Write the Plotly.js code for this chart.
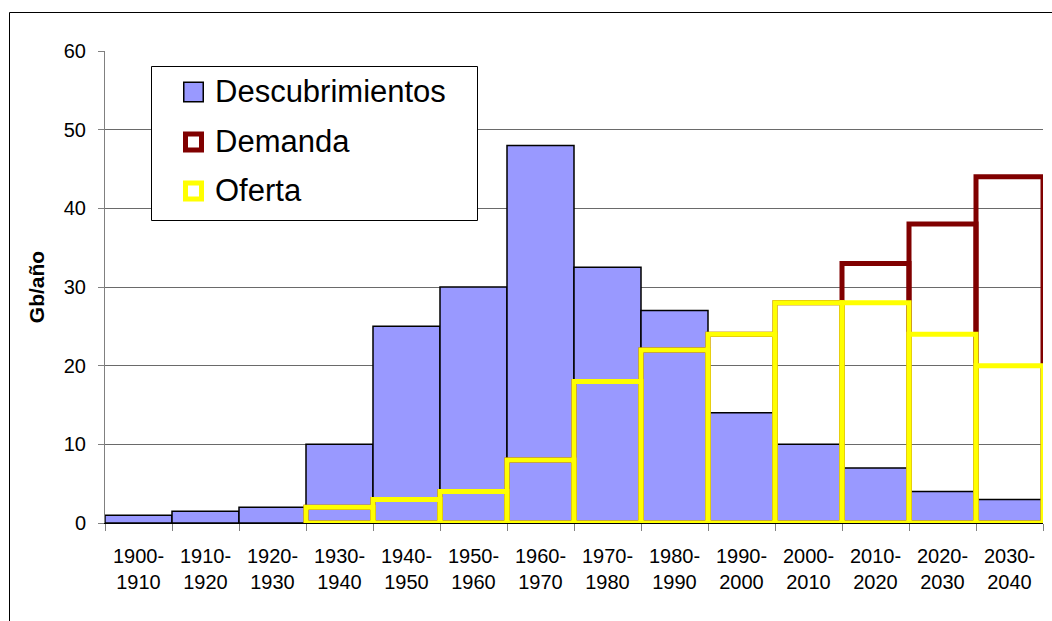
<!DOCTYPE html>
<html>
<head>
<meta charset="utf-8">
<script src="https://cdn.plot.ly/plotly-3.0.1.min.js"></script>
<style>
  html, body { margin: 0; padding: 0; background: #fff; }
  #chart { width: 1052px; height: 621px; }
</style>
</head>
<body>
<div id="chart"></div>
<script>
// ---- data ----
const categories = ['1900-1910','1910-1920','1920-1930','1930-1940','1940-1950','1950-1960','1960-1970',
                    '1970-1980','1980-1990','1990-2000','2000-2010','2010-2020','2020-2030','2030-2040'];
const tickLabels = ['1900-<br>1910','1910-<br>1920','1920-<br>1930','1930-<br>1940','1940-<br>1950','1950-<br>1960','1960-<br>1970',
                    '1970-<br>1980','1980-<br>1990','1990-<br>2000','2000-<br>2010','2010-<br>2020','2020-<br>2030','2030-<br>2040'];
const descubrimientos = [1, 1.5, 2, 10, 25, 30, 48, 32.5, 27, 14, 10, 7, 4, 3];
const demanda = [null, null, null, 2, 3, 4, 8, 18, 22, 24, 28, 33, 38, 44];
const oferta  = [null, null, null, 2, 3, 4, 8, 18, 22, 24, 28, 28, 24, 20];
const seriesNames = ['Descubrimientos', 'Demanda', 'Oferta'];
const yTicks = [0, 10, 20, 30, 40, 50, 60];

// ---- layout geometry (pixels) ----
const W = 1052, H = 621;
const L = 105, R = 1043, T = 51, B = 523;
const px2x = p => (p - L) / (R - L);
const py2y = p => (B - p) / (B - T);

const colors = { desc: '#9999FF', dem: '#800000', of: '#FFFF00' };
const FONT = 'Liberation Sans, Arial, sans-serif';

const traces = [
  { type: 'bar', name: seriesNames[0], x: categories, y: descubrimientos,
    marker: { color: colors.desc, line: { color: '#000000', width: 1.5 } },
    showlegend: false, hoverinfo: 'x+y+name' },
  { type: 'bar', name: seriesNames[1], x: categories, y: demanda,
    marker: { color: 'rgba(0,0,0,0)', line: { color: colors.dem, width: 5 } },
    showlegend: false, hoverinfo: 'x+y+name' },
  { type: 'bar', name: seriesNames[2], x: categories, y: oferta,
    marker: { color: 'rgba(0,0,0,0)', line: { color: colors.of, width: 5 } },
    showlegend: false, hoverinfo: 'x+y+name' }
];

// custom legend (shapes + annotations, positioned in paper coordinates)
const legendBox = { x0: 151, x1: 477, y0: 66, y1: 220 };
const legendItems = [
  { name: seriesNames[0], cy: 92,  fill: colors.desc, line: '#000000', lw: 1.5, inset: 0.75 },
  { name: seriesNames[1], cy: 142, fill: '#ffffff',   line: colors.dem, lw: 5, inset: 2.5 },
  { name: seriesNames[2], cy: 191, fill: '#ffffff',   line: colors.of,  lw: 5, inset: 2.5 }
];

const shapes = [
  // outer frame
  { type: 'rect', xref: 'paper', yref: 'paper', layer: 'above',
    x0: px2x(9.5), x1: px2x(1070), y0: py2y(12.5), y1: py2y(650),
    line: { color: '#000000', width: 1 }, fillcolor: 'rgba(0,0,0,0)' },
  // legend box
  { type: 'rect', xref: 'paper', yref: 'paper', layer: 'above',
    x0: px2x(legendBox.x0 + 0.5), x1: px2x(legendBox.x1 + 0.5),
    y0: py2y(legendBox.y0 + 0.5), y1: py2y(legendBox.y1 + 0.5),
    line: { color: '#000000', width: 1 }, fillcolor: '#ffffff' }
];
const annotations = [];
legendItems.forEach(it => {
  const s = 21, x0 = 183, y0 = it.cy - s / 2;
  shapes.push({ type: 'rect', xref: 'paper', yref: 'paper', layer: 'above',
    x0: px2x(x0 + it.inset), x1: px2x(x0 + s - it.inset),
    y0: py2y(y0 + it.inset), y1: py2y(y0 + s - it.inset),
    line: { color: it.line, width: it.lw }, fillcolor: it.fill });
  annotations.push({ xref: 'paper', yref: 'paper', x: px2x(213), y: py2y(it.cy - 1),
    xanchor: 'left', yanchor: 'middle', showarrow: false, text: it.name,
    font: { family: FONT, size: 31, color: '#000000' } });
});

const layout = {
  width: W, height: H,
  margin: { l: L, r: W - R, t: T, b: H - B, pad: 0 },
  paper_bgcolor: '#ffffff', plot_bgcolor: '#ffffff',
  font: { family: FONT, size: 20, color: '#000000' },
  barmode: 'overlay', bargap: 0,
  showlegend: false,
  xaxis: {
    type: 'category', tickmode: 'array', tickvals: categories, ticktext: tickLabels,
    tickson: 'boundaries', ticks: 'outside', ticklen: 7, tickcolor: '#808080', tickwidth: 1,
    showline: true, linecolor: '#000000', linewidth: 1,
    showgrid: false, zeroline: false, fixedrange: true,
    ticklabelstandoff: 15,
    tickfont: { family: FONT, size: 20, color: '#000000' }
  },
  yaxis: {
    range: [0, 60], tickmode: 'array', tickvals: yTicks,
    ticks: 'outside', ticklen: 6, tickcolor: '#808080', tickwidth: 1,
    showline: true, linecolor: '#808080', linewidth: 1,
    showgrid: true, gridcolor: '#6a6a6a', gridwidth: 1,
    zeroline: false, fixedrange: true,
    ticklabelstandoff: 8,
    tickfont: { family: FONT, size: 20, color: '#000000' },
    title: { text: 'Gb/año', standoff: 13,
             font: { family: FONT, size: 21, color: '#000000', weight: 'bold' } }
  },
  shapes: shapes,
  annotations: annotations
};

Plotly.newPlot('chart', traces, layout, { displayModeBar: false, staticPlot: true });
</script>
</body>
</html>
